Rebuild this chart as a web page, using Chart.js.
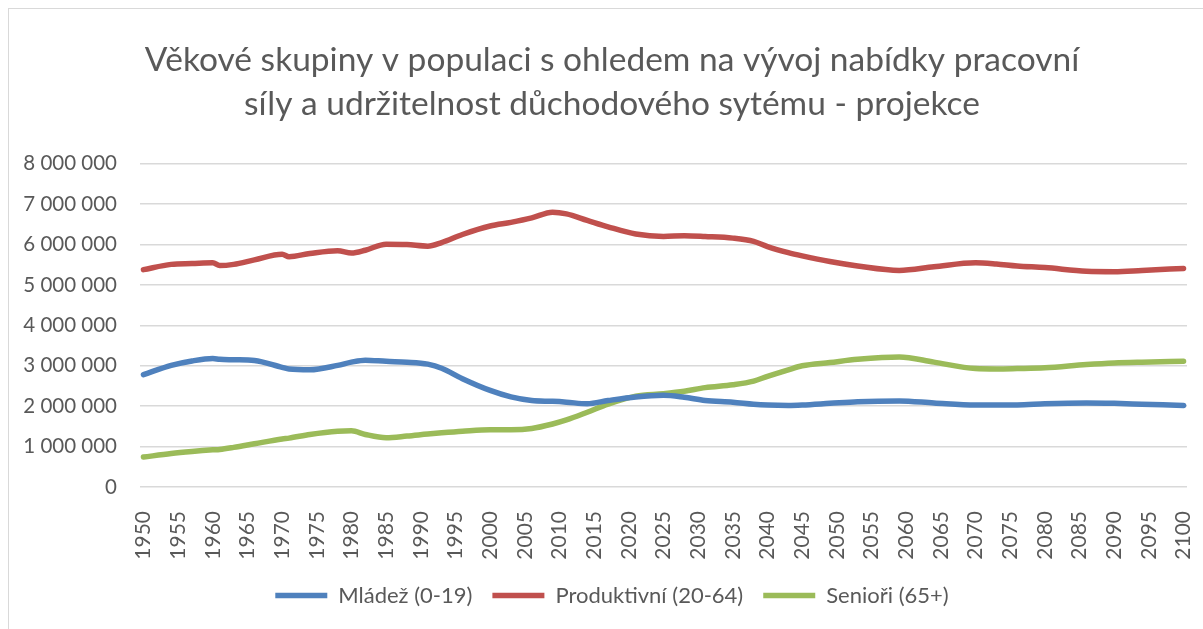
<!DOCTYPE html>
<html>
<head>
<meta charset="utf-8">
<script src="https://cdn.jsdelivr.net/npm/chart.js@4"></script>
<style>
  html, body { margin: 0; padding: 0; background: #fff; }
</style>
</head>
<body>
<canvas id="myChart" width="1203" height="629"></canvas>
<script>
const years = [1950, 1954, 1957, 1960, 1961, 1963, 1966, 1970, 1971, 1974, 1978, 1980, 1982, 1985, 1988, 1991, 1993, 1996,
  2000, 2003, 2006, 2009, 2011, 2014, 2017, 2021, 2025, 2028, 2031, 2035, 2038, 2040, 2043, 2045, 2049,
  2053, 2059, 2064, 2070, 2073, 2076, 2080, 2086, 2090, 2094, 2100];

const mladez = [2780000, 3010000, 3120000, 3180000, 3160000, 3150000, 3130000, 2960000, 2920000, 2900000, 3010000, 3090000,
  3140000, 3110000, 3090000, 3040000, 2940000, 2680000, 2390000, 2230000, 2140000, 2120000, 2100000, 2060000,
  2140000, 2230000, 2270000, 2220000, 2140000, 2100000, 2050000, 2030000, 2020000, 2030000, 2070000,
  2110000, 2130000, 2080000, 2030000, 2030000, 2030000, 2060000, 2080000, 2070000, 2050000, 2020000];

const produktivni = [5380000, 5510000, 5530000, 5550000, 5480000, 5510000, 5620000, 5760000, 5700000, 5780000, 5850000, 5790000,
  5860000, 6010000, 6000000, 5960000, 6050000, 6250000, 6460000, 6550000, 6660000, 6800000, 6760000, 6600000,
  6440000, 6260000, 6200000, 6220000, 6200000, 6160000, 6080000, 5950000, 5800000, 5720000, 5580000,
  5470000, 5360000, 5450000, 5550000, 5520000, 5470000, 5430000, 5340000, 5330000, 5360000, 5410000];

const seniori = [740000, 830000, 880000, 920000, 930000, 980000, 1070000, 1190000, 1210000, 1300000, 1380000, 1390000,
  1300000, 1220000, 1260000, 1310000, 1340000, 1380000, 1420000, 1420000, 1450000, 1560000, 1660000, 1850000,
  2050000, 2250000, 2310000, 2370000, 2460000, 2530000, 2620000, 2740000, 2900000, 3000000, 3080000,
  3160000, 3220000, 3090000, 2930000, 2920000, 2930000, 2950000, 3030000, 3070000, 3090000, 3110000];

const xTickYears = [1950, 1955, 1960, 1965, 1970, 1975, 1980, 1985, 1990, 1995, 2000, 2005, 2010, 2015, 2020, 2025,
  2030, 2035, 2040, 2045, 2050, 2055, 2060, 2065, 2070, 2075, 2080, 2085, 2090, 2095, 2100];
const yTickValues = [0, 1000000, 2000000, 3000000, 4000000, 5000000, 6000000, 7000000, 8000000];

const textColor = '#595959';
const fontFamily = 'Lato, "Open Sans", sans-serif';

function toPoints(values) {
  return values.map((v, i) => ({ x: years[i], y: v }));
}

function formatThousands(v) {
  return String(v).replace(/\B(?=(\d{3})+(?!\d))/g, ' ');
}

const framePlugin = {
  id: 'frame',
  beforeDraw(chart) {
    const ctx = chart.ctx;
    ctx.save();
    ctx.fillStyle = '#fff';
    ctx.fillRect(0, 0, chart.width, chart.height);
    ctx.strokeStyle = '#d9d9d9';
    ctx.lineWidth = 1;
    ctx.strokeRect(8.5, 8.5, chart.width + 20, chart.height + 20);
    ctx.restore();
  }
};

const lineStyle = {
  borderWidth: 5.5,
  pointRadius: 0,
  fill: false,
  cubicInterpolationMode: 'monotone',
  borderCapStyle: 'round',
  borderJoinStyle: 'round'
};

new Chart(document.getElementById('myChart').getContext('2d'), {
  type: 'line',
  data: {
    datasets: [
      { label: 'Mládež (0-19)', data: toPoints(mladez), borderColor: '#4f81bd', backgroundColor: '#4f81bd', ...lineStyle },
      { label: 'Produktivní (20-64)', data: toPoints(produktivni), borderColor: '#c0504d', backgroundColor: '#c0504d', ...lineStyle },
      { label: 'Senioři (65+)', data: toPoints(seniori), borderColor: '#9bbb59', backgroundColor: '#9bbb59', ...lineStyle }
    ]
  },
  options: {
    responsive: false,
    animation: false,
    // negative right padding + empty right axis keep the title centred like the original
    layout: { padding: { left: 0, right: -21, top: 38, bottom: 12.5 } },
    plugins: {
      title: {
        display: true,
        text: ['Věkové skupiny v populaci s ohledem na vývoj nabídky pracovní',
               'síly a udržitelnost důchodového sytému - projekce'],
        color: textColor,
        font: { family: fontFamily, size: 33.5, weight: 'normal', lineHeight: 1.31 },
        padding: { top: 0, bottom: 38 }
      },
      legend: {
        position: 'bottom',
        labels: {
          usePointStyle: true,
          pointStyle: 'line',
          pointStyleWidth: 52,
          boxHeight: 6,
          color: textColor,
          padding: 20,
          font: { family: fontFamily, size: 22 }
        }
      },
      tooltip: { enabled: false }
    },
    scales: {
      x: {
        type: 'linear',
        min: 1949.5,
        max: 2100.5,
        grid: { display: false },
        border: { display: false },
        afterBuildTicks: axis => { axis.ticks = xTickYears.map(v => ({ value: v })); },
        afterFit: axis => {
          axis.height = 77.5;
          axis.paddingLeft = 0;
          axis.paddingRight = 0;
        },
        ticks: {
          autoSkip: false,
          maxRotation: 90,
          minRotation: 90,
          padding: 16,
          color: textColor,
          font: { family: fontFamily, size: 21 },
          callback: v => String(v)
        }
      },
      y: {
        min: 0,
        max: 8000000,
        afterBuildTicks: axis => { axis.ticks = yTickValues.map(v => ({ value: v })); },
        afterFit: axis => { axis.width = 140; },
        grid: { color: '#d9d9d9', lineWidth: 1.5, drawTicks: false },
        border: { display: false },
        ticks: {
          padding: 23,
          color: textColor,
          font: { family: fontFamily, size: 20.5 },
          callback: v => formatThousands(v)
        }
      },
      spacer: {
        position: 'right',
        grid: { display: false },
        border: { display: false },
        ticks: { display: false },
        afterFit: axis => { axis.width = 37; }
      }
    }
  },
  plugins: [framePlugin]
});
</script>
</body>
</html>
